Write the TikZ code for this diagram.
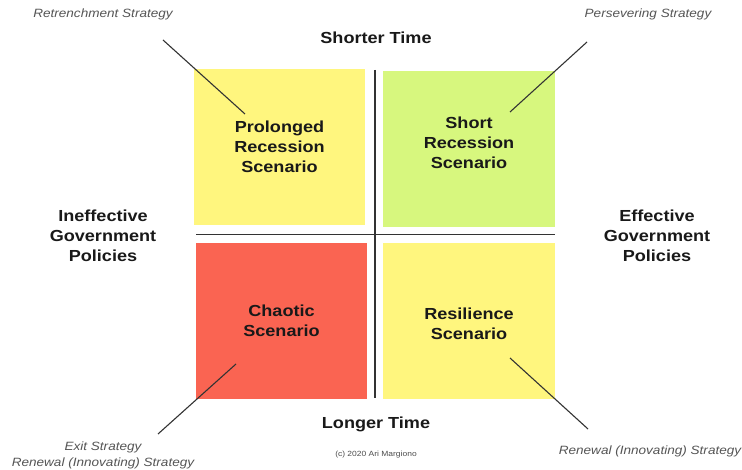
\documentclass[tikz,border=0pt]{standalone}
\usepackage{fontspec}
\setmainfont[FakeStretch=1.13]{Liberation Sans}
\definecolor{scnyellow}{HTML}{FFF67E}
\definecolor{scngreen}{HTML}{D7F77E}
\definecolor{scnred}{HTML}{FA6452}
\definecolor{stratgray}{HTML}{555555}
\tikzset{
  scenario/.style={rectangle, fill=#1, minimum width=171pt, minimum height=156pt, align=center, inner sep=0pt, text=black!90, font=\fontsize{16}{20}\selectfont\bfseries},
  axislabel/.style={align=center, text=black!90, font=\fontsize{16}{20}\selectfont\bfseries},
  strategy/.style={align=center, text=stratgray, font=\fontsize{12}{16}\selectfont\itshape},
  axisline/.style={draw=black!80, line width=1.5pt},
  pointer/.style={draw=black!80, line width=1.1pt}
}
\begin{document}
\begin{tikzpicture}[x=1pt, y=-1pt]
				\useasboundingbox[fill=white] (0,0) rectangle (742,470);
				\node[scenario=scnyellow] (PR) at (279.5, 147) {Prolonged\\Recession\\Scenario};
				\node[scenario=scngreen, minimum width=172pt] (SR) at (469, 149) {Short\\Recession\\Scenario\\[-8pt]};
				\node[scenario=scnred] (CH) at (281.5, 321) {Chaotic\\Scenario};
				\node[scenario=scnyellow, minimum width=172pt] (RS) at (469, 321) {Resilience\\Scenario\\[-26pt]};
				\coordinate (Vtop) at (375, 70);
				\coordinate (Vbot) at (375, 398);
				\coordinate (Hleft) at (196, 234.5);
				\coordinate (Hright) at (555, 234.5);
				\draw[axisline] (Vtop) -- (Vbot);
				\draw[axisline] (Hleft) -- (Hright);
				\node[axislabel] (ST) at (376, 38) {Shorter Time};
				\node[axislabel] (LT) at (376, 424) {Longer Time};
				\node[axislabel] (IG) at (103, 235.5) {Ineffective\\Government\\Policies};
				\node[axislabel] (EG) at (657, 235.5) {Effective\\Government\\Policies};
				\node[text=black!70, font=\fontsize{7.5}{9}\selectfont] (CR) at (376, 455) {(c) 2020 Ari Margiono};
				\node[strategy] (RTS) at (103, 14) {Retrenchment Strategy};
				\node[strategy] (PVS) at (648, 14) {Persevering Strategy};
				\node[strategy] (EXS) at (103, 455) {Exit Strategy\\Renewal (Innovating) Strategy};
				\node[strategy] (RNS) at (650, 451) {Renewal (Innovating) Strategy};
				\coordinate (RTa) at (163, 40);
				\coordinate (RTb) at (245, 114);
				\coordinate (PVa) at (587, 42);
				\coordinate (PVb) at (510, 112);
				\coordinate (EXa) at (158, 434);
				\coordinate (EXb) at (236, 364);
				\coordinate (RNa) at (588, 429);
				\coordinate (RNb) at (510, 358);
				\draw[pointer] (RTa) -- (RTb);
				\draw[pointer] (PVa) -- (PVb);
				\draw[pointer] (EXa) -- (EXb);
				\draw[pointer] (RNa) -- (RNb);
			\end{tikzpicture}
\end{document}
